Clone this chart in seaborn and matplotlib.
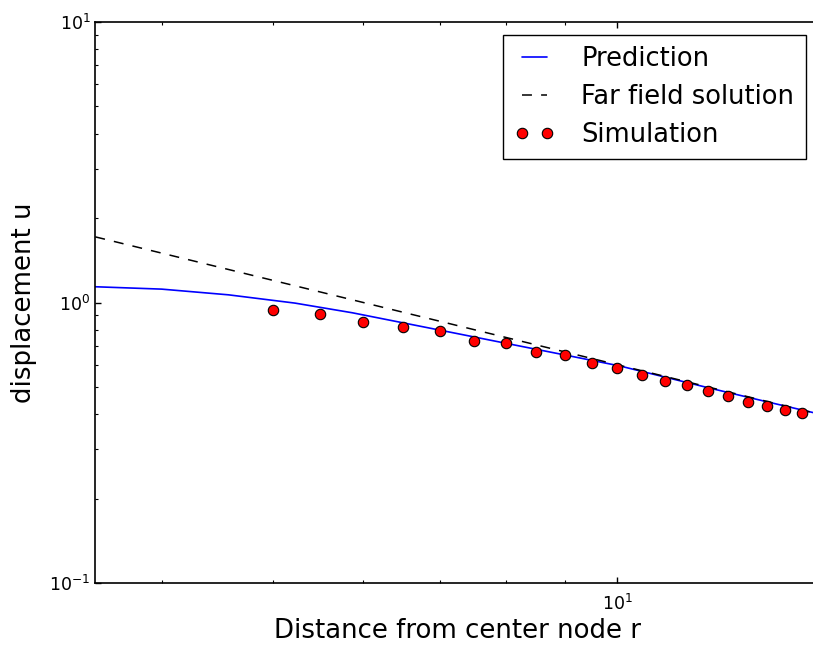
import numpy as np
import pandas as pd
import seaborn as sns
import matplotlib
matplotlib.use("Agg")
import matplotlib.pyplot as plt
from matplotlib.ticker import LogLocator, NullFormatter, LogFormatterMathtext

# ---- data ----
pred_r = [3.5, 4.0, 4.575, 5.23, 5.87, 7.0, 8.0, 9.0, 10.05, 12.0, 13.5, 14.83, 15.0]
pred_u = [1.138, 1.116, 1.065, 0.995, 0.919, 0.797, 0.715, 0.650, 0.594, 0.497, 0.443, 0.405, 0.400]

far_r = [3.5, 15.0]
far_u = [1.714, 0.400]

sim_r = [5.0, 5.5, 6.0, 6.5, 7.0, 7.5, 8.0, 8.5, 9.0, 9.5,
         10.0, 10.5, 11.0, 11.5, 12.0, 12.5, 13.0, 13.5, 14.0, 14.5]
sim_u = [0.942, 0.911, 0.851, 0.819, 0.791, 0.732, 0.717, 0.667, 0.649, 0.608,
         0.586, 0.552, 0.527, 0.506, 0.483, 0.465, 0.443, 0.428, 0.415, 0.405]

sns.set_theme(style="white")
plt.rcParams.update({
    "font.family": ["DejaVu Sans"],
    "text.color": "black", "axes.labelcolor": "black",
    "xtick.color": "black", "ytick.color": "black",
    "xtick.direction": "in", "ytick.direction": "in",
    "xtick.top": True, "ytick.right": True,
    "xtick.bottom": True, "ytick.left": True,
    "xtick.major.size": 4.5, "ytick.major.size": 4.5,
    "xtick.minor.size": 2.5, "ytick.minor.size": 2.5,
    "xtick.major.width": 1.0, "ytick.major.width": 1.0,
    "xtick.minor.width": 0.8, "ytick.minor.width": 0.8,
    "axes.edgecolor": "black", "axes.linewidth": 1.2,
    "mathtext.default": "regular",
})

fig = plt.figure(figsize=(8.13, 6.45), dpi=100)
ax = fig.add_axes([95.3 / 813, 62 / 645, 723.6 / 813, 561 / 645])

pred_df = pd.DataFrame({"r": pred_r, "u": pred_u})
far_df = pd.DataFrame({"r": far_r, "u": far_u})

sns.lineplot(data=pred_df, x="r", y="u", ax=ax, color="blue", lw=1.2,
             label="Prediction", sort=True)
sns.lineplot(data=far_df, x="r", y="u", ax=ax, color="black", lw=1.1,
             label="Far field solution")
ax.lines[-1].set_linestyle((0, (6.5, 6)))
ax.plot(sim_r, sim_u, ls="none", marker="o", ms=7.5, mfc="red", mec="black",
        mew=0.8, label="Simulation")

ax.set_xscale("log")
ax.set_yscale("log")
ax.set_xlim(3.5, 15.0)
ax.set_ylim(0.1, 10)

for axis in (ax.xaxis, ax.yaxis):
    axis.set_major_locator(LogLocator(base=10))
    axis.set_major_formatter(LogFormatterMathtext())
    axis.set_minor_locator(LogLocator(base=10, subs=np.arange(2, 10), numticks=20))
    axis.set_minor_formatter(NullFormatter())

ax.tick_params(which="both", labelsize=12.5, colors="black")
ax.tick_params(axis="x", which="major", pad=8)
ax.set_xlabel("Distance from center node r", fontsize=18.7, color="black", labelpad=3)
ax.set_ylabel("displacement u", fontsize=18.7, color="black", labelpad=9)
for s in ax.spines.values():
    s.set_visible(True)
    s.set_color("black")

leg = ax.legend(loc="upper right", fontsize=18.5, numpoints=2, frameon=True,
                fancybox=False, framealpha=1, edgecolor="black",
                handlelength=1.55, handletextpad=1.05, borderpad=0.45,
                labelspacing=0.45, borderaxespad=0.5)
leg.get_frame().set_linewidth(1.0)
for t in leg.get_texts():
    t.set_color("black")

fig.savefig("out.png", dpi=100)
